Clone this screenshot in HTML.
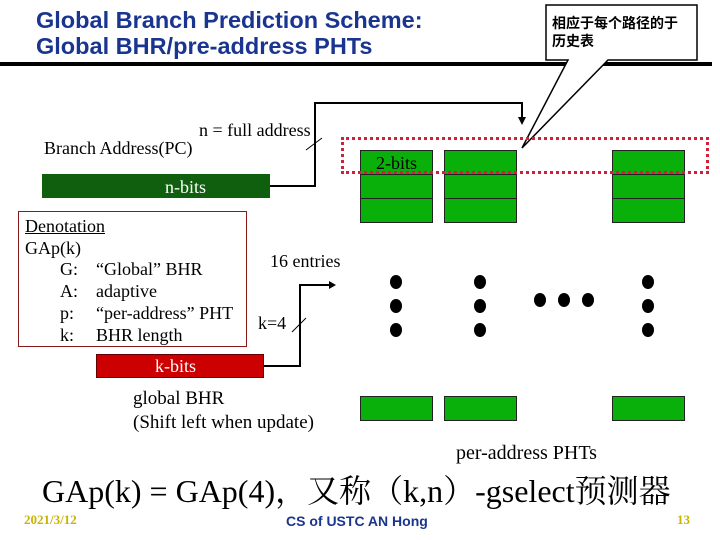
<!DOCTYPE html>
<html><head><meta charset="utf-8"><style>
body{margin:0;width:720px;height:540px;background:#fff;position:relative;overflow:hidden;font-family:"Liberation Serif","Noto Serif CJK SC",serif;}
.a{position:absolute;white-space:nowrap;}
.t{font-family:"Liberation Sans",sans-serif;font-weight:bold;color:#1a3590;font-size:23.5px;line-height:26px;}
.g{position:absolute;background:#0ab00a;border:1px solid #222;box-sizing:border-box;}
.s{font-size:18px;line-height:20px;}
</style></head><body>
<div class="a t" style="left:36px;top:7px">Global Branch Prediction Scheme:<br>Global BHR/pre-address PHTs</div>
<div class="a" style="left:0;top:62px;width:712px;height:4px;background:#000"></div>
<svg class="a" style="left:0;top:0" width="720" height="540">
<polygon points="546,5 697,5 697,60 608,60 522,148 568,60 546,60" fill="#fff" stroke="#000" stroke-width="1.5"/>
<polyline points="270,186 315,186 315,103 522,103 522,118" fill="none" stroke="#000" stroke-width="2"/>
<polygon points="518,117 526,117 522,125" fill="#000"/>
<line x1="306" y1="150" x2="322" y2="138" stroke="#000" stroke-width="1"/>
<polyline points="264,366 300,366 300,285 330,285" fill="none" stroke="#000" stroke-width="2"/>
<polygon points="329,281 329,289 336,285" fill="#000"/>
<line x1="292" y1="332" x2="306" y2="318" stroke="#000" stroke-width="1"/>
<g fill="#000">
<ellipse cx="396" cy="282" rx="6" ry="7"/><ellipse cx="396" cy="306" rx="6" ry="7"/><ellipse cx="396" cy="330" rx="6" ry="7"/>
<ellipse cx="480" cy="282" rx="6" ry="7"/><ellipse cx="480" cy="306" rx="6" ry="7"/><ellipse cx="480" cy="330" rx="6" ry="7"/>
<ellipse cx="648" cy="282" rx="6" ry="7"/><ellipse cx="648" cy="306" rx="6" ry="7"/><ellipse cx="648" cy="330" rx="6" ry="7"/>
<ellipse cx="540" cy="300" rx="6" ry="7"/><ellipse cx="564" cy="300" rx="6" ry="7"/><ellipse cx="588" cy="300" rx="6" ry="7"/>
</g>
</svg>
<div class="a" style="left:552px;top:14px;font-family:'Liberation Sans','Noto Sans CJK SC',sans-serif;font-weight:bold;font-size:14px;line-height:18px">相应于每个路径的于<br>历史表</div>

<div class="a s" style="left:199px;top:120px">n = full address</div>
<div class="a s" style="left:44px;top:138px">Branch Address(PC)</div>
<div class="a" style="left:42px;top:174px;width:228px;height:24px;background:#0f5f0f;"></div>
<div class="a s" style="left:165px;top:177px;color:#fff">n-bits</div>

<div class="g" style="left:360px;top:150px;width:73px;height:25px"></div>
<div class="g" style="left:360px;top:174px;width:73px;height:25px"></div>
<div class="g" style="left:360px;top:198px;width:73px;height:25px"></div>
<div class="g" style="left:444px;top:150px;width:73px;height:25px"></div>
<div class="g" style="left:444px;top:174px;width:73px;height:25px"></div>
<div class="g" style="left:444px;top:198px;width:73px;height:25px"></div>
<div class="g" style="left:612px;top:150px;width:73px;height:25px"></div>
<div class="g" style="left:612px;top:174px;width:73px;height:25px"></div>
<div class="g" style="left:612px;top:198px;width:73px;height:25px"></div>
<div class="a" style="left:341px;top:137px;width:368px;height:37px;border:3px dotted #d0203a;box-sizing:border-box"></div>
<div class="a s" style="left:376px;top:153px">2-bits</div>

<div class="a" style="left:18px;top:211px;width:229px;height:136px;border:1px solid #8a1a1a;box-sizing:border-box"></div>
<div class="a s" style="left:25px;top:215px;line-height:22px"><u>Denotation</u><br>GAp(k)</div>
<div class="a s" style="left:60px;top:258px;line-height:22px">G:<br>A:<br>p:<br>k:</div>
<div class="a s" style="left:96px;top:258px;line-height:22px">“Global” BHR<br>adaptive<br>“per-address” PHT<br>BHR length</div>

<div class="a s" style="left:270px;top:251px">16 entries</div>
<div class="a s" style="left:258px;top:313px">k=4</div>

<div class="a" style="left:96px;top:354px;width:168px;height:24px;background:#cc0000;border:1px solid #600;box-sizing:border-box"></div>
<div class="a s" style="left:155px;top:356px;color:#fff">k-bits</div>
<div class="a" style="left:133px;top:387px;font-size:19px;line-height:24px">global BHR<br>(Shift left when update)</div>

<div class="g" style="left:360px;top:396px;width:73px;height:25px"></div>
<div class="g" style="left:444px;top:396px;width:73px;height:25px"></div>
<div class="g" style="left:612px;top:396px;width:73px;height:25px"></div>

<div class="a" style="left:456px;top:442px;font-size:20px;line-height:22px">per-address PHTs</div>
<div class="a" style="left:42px;top:473px;font-size:32px;line-height:36px">GAp(k) = GAp(4)，又称（k,n）-gselect预测器</div>
<div class="a" style="left:24px;top:512px;font-size:13px;font-weight:bold;color:#c8b400">2021/3/12</div>
<div class="a" style="left:286px;top:513px;font-family:'Liberation Sans',sans-serif;font-size:14px;font-weight:bold;color:#1a3590">CS of USTC AN Hong</div>
<div class="a" style="left:677px;top:512px;font-size:13px;font-weight:bold;color:#c8b400">13</div>
</body></html>
